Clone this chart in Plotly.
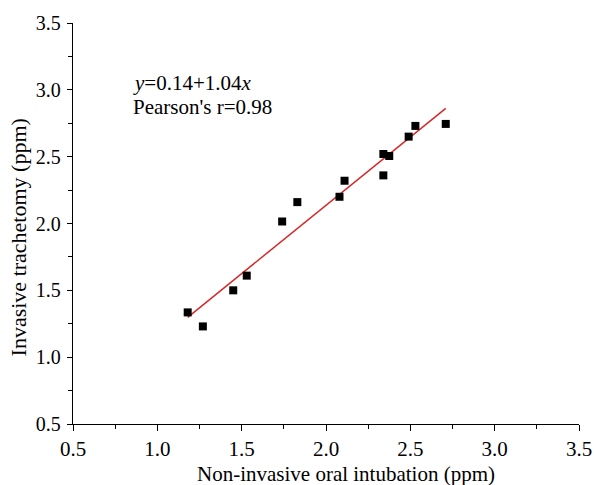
import numpy as np
import plotly.graph_objects as go

# Data
oral_x = [1.18, 1.27, 1.45, 1.53, 1.74, 1.83, 2.08, 2.11, 2.34, 2.34, 2.375, 2.49, 2.53, 2.71]
trach_y = [1.335, 1.23, 1.50, 1.61, 2.015, 2.16, 2.20, 2.32, 2.36, 2.52, 2.505, 2.65, 2.73, 2.745]
tick_vals = [0.5, 1.0, 1.5, 2.0, 2.5, 3.0, 3.5]
tick_text = ["0.5", "1.0", "1.5", "2.0", "2.5", "3.0", "3.5"]
eq_text = "<i>y</i>=0.14+1.04<i>x</i>"
r_text = "Pearson's r=0.98"
x_title = "Non-invasive oral intubation (ppm)"
y_title = "Invasive trachetomy (ppm)"

slope, intercept = np.polyfit(oral_x, trach_y, 1)
fit_x = [min(oral_x), max(oral_x)]
fit_y = [intercept + slope * v for v in fit_x]

FONT = "Liberation Serif, Times New Roman, serif"

fig = go.Figure()
fig.add_trace(go.Scatter(x=fit_x, y=fit_y, mode="lines",
                         line=dict(color="#d42a2a", width=1.5), showlegend=False))
fig.add_trace(go.Scatter(x=oral_x, y=trach_y, mode="markers",
                         marker=dict(symbol="square", size=8, color="black"),
                         showlegend=False))

def axis(fsize, ticklen, standoff):
    return dict(
        range=[0.5, 3.5], tickvals=tick_vals, ticktext=tick_text,
        automargin=False,
        showgrid=False, zeroline=False, showline=True, linecolor="black", linewidth=1.3,
        ticks="outside", ticklen=ticklen, tickwidth=1.2, tickcolor="black",
        minor=dict(ticks="outside", ticklen=4, tickwidth=1, tickcolor="black", dtick=0.25, showgrid=False),
        tickfont=dict(family=FONT, size=fsize, color="black"),
        ticklabelstandoff=standoff,
    )

fig.update_layout(
    width=594, height=485,
    margin=dict(l=73, r=15, t=23, b=61),
    paper_bgcolor="white", plot_bgcolor="white",
    font=dict(family=FONT, color="black"),
    xaxis=axis(21, 6, 0),
    yaxis=axis(20, 5, 2),
    annotations=[
        dict(x=0.845, y=3.054, xref="x", yref="y", text=eq_text, showarrow=False,
             xanchor="left", yanchor="middle", font=dict(family=FONT, size=21, color="black")),
        dict(x=0.845, y=2.874, xref="x", yref="y", text=r_text, showarrow=False,
             xanchor="left", yanchor="middle", font=dict(family=FONT, size=21, color="black")),
        dict(x=0.540, y=-0.125, xref="paper", yref="paper", text=x_title, showarrow=False,
             xanchor="center", yanchor="middle", font=dict(family=FONT, size=21, color="black")),
        dict(x=-0.107, y=0.465, xref="paper", yref="paper", text=y_title, showarrow=False,
             textangle=-90, xanchor="center", yanchor="middle",
             font=dict(family=FONT, size=22, color="black")),
    ],
)

fig.write_html("out.html")
